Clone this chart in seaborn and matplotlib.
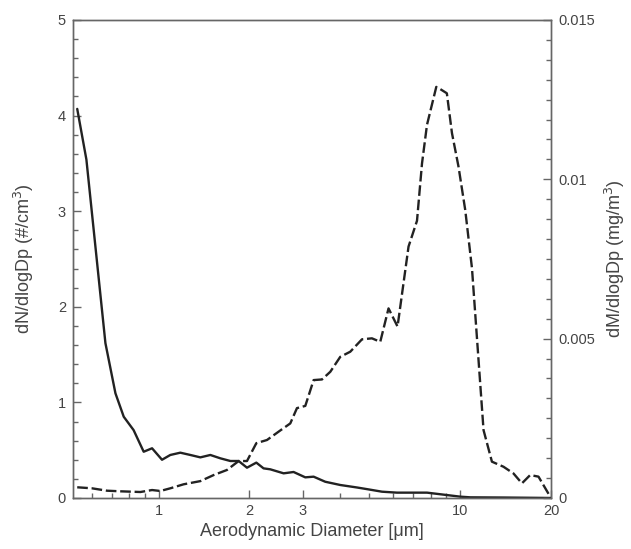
import matplotlib
matplotlib.use("Agg")
import matplotlib.pyplot as plt
import matplotlib.ticker as mticker
import seaborn as sns
import pandas as pd
import numpy as np

# Number distribution (left axis)
n_diam = [0.537, 0.576, 0.666, 0.719, 0.766, 0.826, 0.892, 0.951, 1.026, 1.093,
          1.18, 1.274, 1.375, 1.484, 1.602, 1.729, 1.842, 1.963, 2.108, 2.228,
          2.345, 2.597, 2.802, 3.064, 3.265, 3.568, 4.002, 4.546, 4.966, 5.502,
          6.17, 6.82, 7.76, 8.81, 10.0, 10.8, 13.92, 17.5, 20.0]
n_vals = [4.07, 3.54, 1.62, 1.095, 0.85, 0.71, 0.484, 0.52, 0.40, 0.45,
          0.474, 0.45, 0.425, 0.45, 0.415, 0.387, 0.387, 0.317, 0.37, 0.31,
          0.30, 0.258, 0.272, 0.216, 0.223, 0.17, 0.136, 0.11, 0.09, 0.066,
          0.056, 0.056, 0.056, 0.035, 0.014, 0.007, 0.005, 0.002, 0.0]

# Mass distribution (right axis)
m_diam = [0.537, 0.601, 0.674, 0.746, 0.870, 0.951, 1.013, 1.093, 1.21, 1.375,
          1.522, 1.685, 1.842, 1.963, 2.108, 2.287, 2.532, 2.732, 2.875, 3.064,
          3.265, 3.48, 3.708, 4.002, 4.319, 4.724, 5.097, 5.431, 5.785, 6.197,
          6.74, 7.19, 7.47, 7.76, 8.33, 8.59, 9.03, 9.39, 9.87, 10.39,
          10.94, 11.07, 11.95, 12.74, 13.92, 15.02, 16.02, 17.06, 18.18, 20.0]
m_vals = [0.000336, 0.000304, 0.000229, 0.00021, 0.000188, 0.00025, 0.00022, 0.000304, 0.00043, 0.00053,
          0.00072, 0.00088, 0.00116, 0.00116, 0.00172, 0.00182, 0.00212, 0.00234, 0.00282, 0.00289,
          0.0037, 0.00372, 0.00396, 0.00443, 0.00459, 0.00498, 0.00501, 0.0049, 0.00595, 0.00538,
          0.00789, 0.0087, 0.0105, 0.01171, 0.0129, 0.01283, 0.0127, 0.01145, 0.0104, 0.00904,
          0.00721, 0.00653, 0.00213, 0.00114, 0.00098, 0.00077, 0.00046, 0.00072, 0.00067, 0.0]

x_ticks = [1, 2, 3, 10, 20]
x_tick_labels = ["1", "2", "3", "10", "20"]
x_minor = [0.6, 0.7, 0.8, 0.9, 4, 5, 6, 7, 8, 9]
left_ticks = [0, 1, 2, 3, 4, 5]
right_ticks = [0, 0.005, 0.01, 0.015]
right_tick_labels = ["0", "0.005", "0.01", "0.015"]

sns.set_theme(style="white")
plt.rcParams["font.family"] = ["Liberation Sans", "DejaVu Sans"]

text_col = "#444444"
axis_col = "#666666"
line_col = "#222222"

fig = plt.figure(figsize=(6.31, 5.49), dpi=100)
ax = fig.add_axes([0.1157, 0.0929, 0.7575, 0.8707])

df_n = pd.DataFrame({"d": n_diam, "v": n_vals})
df_m = pd.DataFrame({"d": m_diam, "v": m_vals})

sns.lineplot(data=df_n, x="d", y="v", ax=ax, color=line_col, linewidth=1.7)
ax2 = ax.twinx()
sns.lineplot(data=df_m, x="d", y="v", ax=ax2, color=line_col, linewidth=1.7,
             linestyle=(0, (4.5, 1.6)))

ax.set_xscale("log")
ax.set_xlim(0.52, 20)
ax.set_ylim(0, 5)
ax2.set_ylim(0, 0.015)

ax.xaxis.set_major_locator(mticker.FixedLocator(x_ticks))
ax.xaxis.set_major_formatter(mticker.FixedFormatter(x_tick_labels))
ax.xaxis.set_minor_locator(mticker.FixedLocator(x_minor))
ax.xaxis.set_minor_formatter(mticker.NullFormatter())

ax.set_yticks(left_ticks)
ax.set_yticklabels([str(t) for t in left_ticks])
ax.yaxis.set_minor_locator(mticker.MultipleLocator(0.2))

ax2.set_yticks(right_ticks)
ax2.set_yticklabels(right_tick_labels)
ax2.yaxis.set_minor_locator(mticker.MultipleLocator(0.000625))

for a in (ax, ax2):
    for s in a.spines.values():
        s.set_color(axis_col)
        s.set_linewidth(1.0)
    a.tick_params(which="major", direction="in", length=6, width=1.0, color=axis_col,
                  labelsize=10.5, labelcolor=text_col, pad=5)
    a.tick_params(which="minor", direction="in", length=3.5, width=1.0, color=axis_col)
    a.grid(False)

ax.tick_params(axis="y", which="both", left=True, right=False)
ax.tick_params(axis="x", which="both", bottom=True, top=False, pad=4)
ax2.tick_params(axis="y", which="both", right=True, left=False)

ax.set_xlabel("Aerodynamic Diameter [\u03bcm]", fontsize=13, color=text_col, labelpad=4)
ax.set_ylabel("dN/dlogDp (#/cm$^3$)", fontsize=13, color=text_col, labelpad=16)
ax2.set_ylabel("dM/dlogDp (mg/m$^3$)", fontsize=13, color=text_col, labelpad=6)

fig.savefig("out.png", dpi=100, facecolor="white")
